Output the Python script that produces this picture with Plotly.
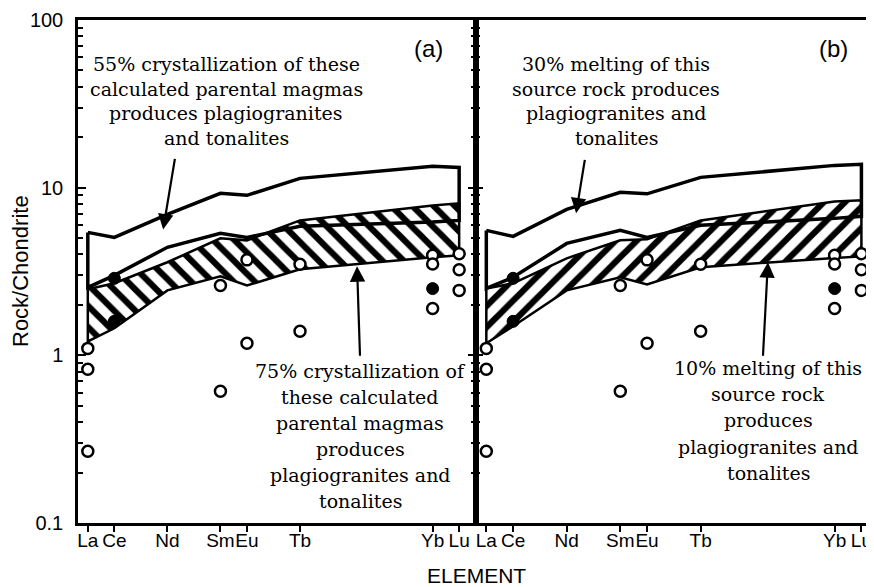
import plotly.graph_objects as go

# ---------------- data ----------------
elements = ["La", "Ce", "Nd", "Sm", "Eu", "Tb", "Yb", "Lu"]
atomic_number = [57, 58, 60, 62, 63, 65, 70, 71]

# panel (a): fields of calculated liquids (Rock/Chondrite)
a55_top = [5.41, 5.05, 6.93, 9.25, 9.00, 11.36, 13.40, 13.20]
a55_bot = [2.54, 3.00, 4.41, 5.34, 5.05, 5.88, 6.25, 6.38]
a75_top = [2.48, 2.69, 3.59, 4.99, 4.85, 6.38, 7.84, 8.06]
a75_bot = [1.21, 1.45, 2.44, 2.96, 2.61, 3.26, 3.84, 3.95]

# panel (b): melting fields
b30_top = [5.56, 5.12, 7.42, 9.38, 9.19, 11.52, 13.58, 13.77]
b30_bot = [2.51, 2.92, 4.65, 5.56, 5.05, 5.96, 6.56, 6.75]
b10_top = [2.50, 2.69, 3.79, 4.85, 4.92, 6.38, 8.28, 8.40]
b10_bot = [1.18, 1.49, 2.44, 2.92, 2.65, 3.35, 3.81, 3.89]

# samples (plagiogranites and tonalites)
open_el = ["La", "La", "La", "Sm", "Sm", "Eu", "Eu", "Tb", "Tb",
           "Yb", "Yb", "Yb", "Lu", "Lu", "Lu"]
open_val = [1.10, 0.825, 0.268, 2.61, 0.61, 3.71, 1.18, 3.49, 1.39,
            3.95, 3.51, 1.90, 4.04, 3.24, 2.44]
filled_el = ["Ce", "Ce", "Yb"]
filled_val = [2.88, 1.595, 2.50]

y_tick_vals = [0.1, 1, 10, 100]
y_tick_text = ["0.1", "1", "10", "100"]

a_top_lines = ["55% crystallization of these", "calculated parental magmas",
               "produces plagiogranites", "and tonalites"]
a_bot_lines = ["75% crystallization of", "these calculated", "parental magmas",
               "produces", "plagiogranites and", "tonalites"]
b_top_lines = ["30% melting of this", "source rock produces",
               "plagiogranites and", "tonalites"]
b_bot_lines = ["10% melting of this", "source rock", "produces",
               "plagiogranites and", "tonalites"]

# ---------------- helpers ----------------
PAGE = 8                      # default body margin of the html page
W, H = 874 - PAGE, 587 - PAGE
PL, PR, PT, PB = 78, 874, 20, 523   # plot area in window pixels
L, T = PL - PAGE, PT - PAGE
R = 0
B = H - (PB - PAGE)
PW, PH = W - L - R, H - T - B

def px_x(p):
    return (p - PL) / PW

def px_y(p):
    return (PB - p) / PH

zmap = dict(zip(elements, atomic_number))

def polygon(top, bot):
    xs = atomic_number + atomic_number[::-1] + [atomic_number[0]]
    ys = top + bot[::-1] + [top[0]]
    return xs, ys

SERIF = "DejaVu Serif"
SANS = "Liberation Sans, Arial, sans-serif"

fig = go.Figure()

def add_panel(xa, ya, hatch_top, hatch_bot, field_top, field_bot, shape):
    hx, hy = polygon(hatch_top, hatch_bot)
    fig.add_trace(go.Scatter(
        x=hx, y=hy, xaxis=xa, yaxis=ya, mode="lines", fill="toself",
        fillcolor="white",
        fillpattern=dict(shape=shape, fgcolor="black", bgcolor="white",
                         fgopacity=1, fillmode="replace",
                         size=15, solidity=0.42),
        line=dict(color="black", width=2.5), hoverinfo="skip"))
    fx, fy = polygon(field_top, field_bot)
    fig.add_trace(go.Scatter(
        x=fx, y=fy, xaxis=xa, yaxis=ya, mode="lines",
        line=dict(color="black", width=3.5), hoverinfo="skip"))
    fig.add_trace(go.Scatter(
        x=[zmap[e] for e in open_el], y=open_val, xaxis=xa, yaxis=ya,
        mode="markers",
        marker=dict(symbol="circle", size=11, color="white",
                    line=dict(color="black", width=2.5))))
    fig.add_trace(go.Scatter(
        x=[zmap[e] for e in filled_el], y=filled_val, xaxis=xa, yaxis=ya,
        mode="markers",
        marker=dict(symbol="circle", size=12, color="black",
                    line=dict(color="black", width=1))))

add_panel("x", "y", a75_top, a75_bot, a55_top, a55_bot, "\\")
add_panel("x2", "y2", b10_top, b10_bot, b30_top, b30_bot, "/")

minor_vals = [m * 10 ** d for d in (-1, 0, 1) for m in range(2, 10)]

xcommon = dict(tickvals=atomic_number, ticktext=elements, ticks="outside",
               ticklen=6, tickwidth=2, tickcolor="black", showline=True,
               linecolor="black", linewidth=2.5, mirror=True, showgrid=False,
               zeroline=False, tickangle=0, ticklabelstandoff=-8,
               tickfont=dict(family=SANS, size=19, color="black"))
ycommon = dict(type="log", range=[-1, 2], tickvals=y_tick_vals,
               ticktext=y_tick_text, ticks="inside", ticklen=8, tickwidth=2,
               tickcolor="black", showline=True, linecolor="black",
               linewidth=2.5, mirror="ticks", showgrid=False, zeroline=False,
               minor=dict(tickvals=minor_vals, ticks="inside", ticklen=5,
                          tickwidth=1.5, tickcolor="black", showgrid=False),
               tickfont=dict(family=SANS, size=20, color="black"))

fig.update_layout(
    width=W, height=H, margin=dict(l=L, r=R, t=T, b=B, autoexpand=False),
    plot_bgcolor="white", paper_bgcolor="white", showlegend=False,
    xaxis=dict(domain=[0, 0.4995], range=[56.63, 71.62], anchor="y", **xcommon),
    xaxis2=dict(domain=[0.4995, 1], range=[56.6, 71.47], anchor="y2", **xcommon),
    yaxis=dict(domain=[0, 1], anchor="x", ticklabelstandoff=8, **ycommon),
    yaxis2=dict(domain=[0, 1], anchor="x2", showticklabels=False, **ycommon),
)

ann = []

def text_block(lines, cx, cy0, step):
    for i, s in enumerate(lines):
        ann.append(dict(text=s, xref="paper", yref="paper", x=px_x(cx),
                        y=px_y(cy0 + i * step), xanchor="center",
                        yanchor="middle", showarrow=False,
                        font=dict(family=SERIF, size=19, color="black")))

text_block(a_top_lines, 226, 64, 24.7)
text_block(a_bot_lines, 360, 371, 25.9)
text_block(b_top_lines, 616, 64, 24.7)
text_block(b_bot_lines, 768, 368, 26.2)

def arrow(xr, yr, x, ylog, ax, ay):
    ann.append(dict(xref=xr, yref=yr, x=x, y=ylog, ax=ax, ay=ay, text="",
                    showarrow=True, arrowhead=2, arrowsize=1.4,
                    arrowwidth=2.2, arrowcolor="black"))

arrow("x", "y", 59.84, 0.751, 12, -72)
arrow("x", "y", 67.15, 0.531, 3, 91)
arrow("x2", "y2", 60.35, 0.847, 9, -55)
arrow("x2", "y2", 67.51, 0.555, -5, 95)

ann.append(dict(text="(a)", xref="paper", yref="paper", x=px_x(428),
                y=px_y(49), xanchor="center", yanchor="middle",
                showarrow=False, font=dict(family=SANS, size=24, color="black")))
ann.append(dict(text="(b)", xref="paper", yref="paper", x=px_x(833),
                y=px_y(49), xanchor="center", yanchor="middle",
                showarrow=False, font=dict(family=SANS, size=24, color="black")))
ann.append(dict(text="ELEMENT", xref="paper", yref="paper", x=px_x(476),
                y=px_y(575), xanchor="center", yanchor="middle",
                showarrow=False, font=dict(family=SANS, size=21, color="black")))
ann.append(dict(text="Rock/Chondrite", xref="paper", yref="paper", x=px_x(20),
                y=px_y(271), xanchor="center", yanchor="middle",
                textangle=-90, showarrow=False,
                font=dict(family=SANS, size=22, color="black")))

fig.update_layout(annotations=ann)
fig.write_html("out.html")
